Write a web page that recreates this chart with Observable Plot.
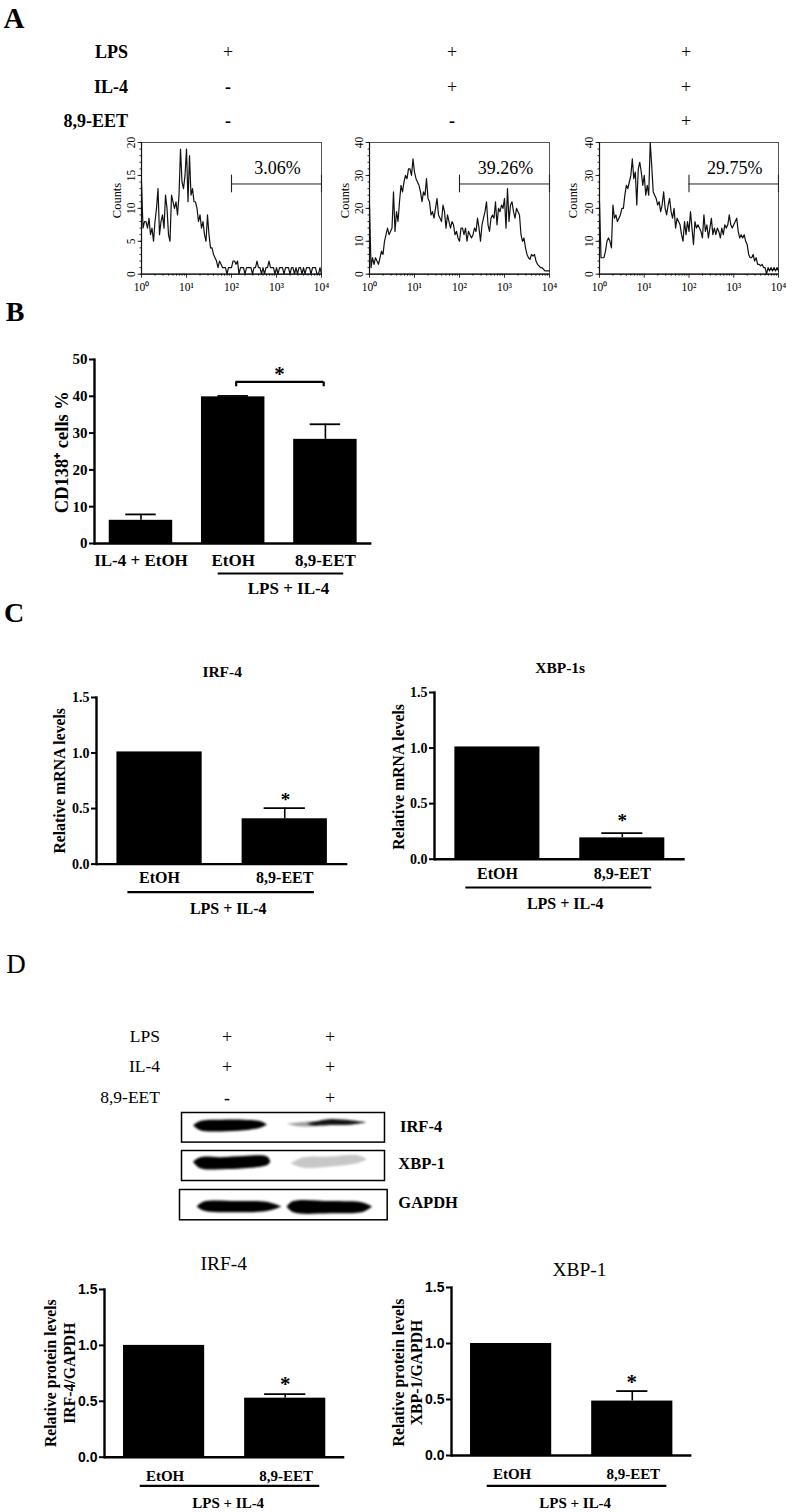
<!DOCTYPE html>
<html>
<head>
<meta charset="utf-8">
<script src="https://cdn.jsdelivr.net/npm/d3@7"></script>
<script src="https://cdn.jsdelivr.net/npm/@observablehq/plot@0.6"></script>
<style>
html,body{margin:0;padding:0;background:#fff;overflow:hidden}
#page{position:relative;width:792px;height:1512px;background:#fff;overflow:hidden}
#page svg{position:absolute;overflow:visible;background:transparent}
.lab{position:absolute;line-height:1;white-space:nowrap;color:#000;font-family:"Liberation Serif",serif}
</style>
</head>
<body>
<div id="page"></div>
<script>
// ---- data ----
const flowLps = [14,7,8,8,7,8.5,6,7,5,8,10,13,6,8,9,7,12,10,6,5,12,11,10,11,9,12,19,14,13,15,19,11,18,12,13,11,11,10,8,9,7,8,6,5,9,6,4,4,3,2.5,2,1,2,1.5,1,1,1,0,1,1,1,2,2,1.5,2,
  0,1,1,1,0,1,1,1,1,0,1,1,2,1,1,0,1,0,1,1,2,1,1,1,0,1,0,1,1,1,0,1,1,1,0,1,1,0,1,0,1,1,0,1,0,1,1,1,0,1,1,1,0,0,1,0];
const flowLpsIl4 = [21,2,5,3,5,4,3,5,7,6,10,12,14,12,13,14,25,13,19,16,22,27,25,28,30,29,32,32,30,35,31,29,28,27,25,22,25,24,29,23,22,18,19,17,20,23,18,17,16,21,19,14,18,16,14,16,15,12,13,11,10,14,14,12,14,10,13,12,11,12,14,13,17,14,10,15,17,19,22,15,13,17,18,17,22,15,20,19,21,20,23,14,26,16,21,22,19,17,20,19,18,12,10,11,8,6,5,4.5,6,5.5,6,4,3,2.5,2,2,1.5,1,1,1,1];
const flowLpsIl4Eet = [22,5,5,5,7,10,11,10,8,21,17,18,16,17,18,20,20,24,27,26,28,30,35,29,31,21,32,34,31,27,30,24,27,24,40,33,25,24,23,21,22,19,21,25,20,18,21,23,19,17,20,14,17,16,15,12,10,16,12,16,13,19,14,9,16,14,15,14,13,11,18,13,15,11,14,17,12,14,12,14,13,11,14,12,15,14,15,18,15,14,15,16,17,13,11,12,11,12,10,9,6,5,5,6,4,5,3,3,2.5,3,2,2,0,2,1,2,1,2,1,2,1];
const gatePercents = ["3.06%","39.26%","29.75%"];
const gateLevels = [13.7,27.4,27.4];
const flowMaxima = [20,40,40];
const conditionRows = ["LPS","IL-4","8,9-EET"];
const signsA = [["+","+","+"],["-","+","+"],["-","-","+"]];
const signsD = [["+","+"],["+","+"],["-","+"]];

const cd138Groups = ["IL-4 + EtOH","EtOH","8,9-EET"];
const cd138Values = [6.3,39.85,28.3];
const cd138Tops = [7.9,40.1,32.4];

const pairGroups = ["EtOH","8,9-EET"];
const irf4MrnaValues = [1.01,0.408];
const irf4MrnaTops = [null,0.504];
const xbpMrnaValues = [1.01,0.192];
const xbpMrnaTops = [null,0.234];
const irf4ProteinValues = [1.0,0.528];
const irf4ProteinTops = [null,0.564];
const xbpProteinValues = [1.0,0.486];
const xbpProteinTops = [null,0.575];

// western blot band outlines, in percent of each membrane box: [x, upper edge, lower edge]
const blotNames = ["IRF-4","XBP-1","GAPDH"];
const blotBands = [
  [
    {o:1, pts:[[5.9,45,45],[9.5,30,62],[19.4,26,66],[30.9,26,62],[39,31,53],[42.4,42,42]]},
    {o:.38, pts:[[52,39,39],[57,36,47],[66,33,47],[68,38,38]]},
    {o:.92, pts:[[62,40,40],[66,33,46],[73.6,24,44],[83.4,28,43],[91.6,35,35]]}
  ],
  [
    {o:1, pts:[[5.9,39,39],[9.5,24,61],[19.4,24,64],[30.9,20,61],[42.4,22,50],[44,39,39]]},
    {o:.22, pts:[[53.9,44,44],[60.4,24,59],[73.6,22,55],[86.7,17,44],[91.6,31,31]]}
  ],
  [
    {o:1, pts:[[8.5,58,58],[11.7,42,71],[27.8,40,77],[42.2,42,73],[49.4,58,58]]},
    {o:1, pts:[[51.8,58,58],[55,40,77],[72.8,40,80],[88.8,45,75],[93,58,58]]}
  ]
];

// ---- helpers ----
const page = document.getElementById("page");
const SERIF = '"Liberation Serif", serif';
const SANS = '"Liberation Sans", sans-serif';

function place(rect, m, options) {
  const svg = Plot.plot({
    width: rect.right - rect.left + m.left + m.right,
    height: rect.bottom - rect.top + m.top + m.bottom,
    marginLeft: m.left, marginRight: m.right, marginTop: m.top, marginBottom: m.bottom,
    style: {background: "transparent", overflow: "visible", fontFamily: SERIF, color: "#000"},
    ...options
  });
  svg.style.left = (rect.left - m.left) + "px";
  svg.style.top = (rect.top - m.top) + "px";
  page.appendChild(svg);
}
function label(text, x, y, o = {}) {
  const d = document.createElement("div");
  d.className = "lab";
  d.textContent = text;
  d.style.left = x + "px";
  d.style.top = y + "px";
  d.style.fontSize = (o.size || 16) + "px";
  d.style.fontWeight = o.weight || "normal";
  const tx = o.anchor === "end" ? "-100%" : o.anchor === "start" ? "0" : "-50%";
  d.style.transform = `translate(${tx},-50%)`;
  page.appendChild(d);
}
// text placed relative to the top-left of a chart's frame
function note(text, rect, x, y, o = {}) {
  return Plot.text([text], {
    frameAnchor: "top-left", dx: x - rect.left, dy: y - rect.top,
    text: d => d, textAnchor: "middle", lineAnchor: "middle",
    fontFamily: o.font || SERIF, fontSize: o.size || 15.5, fontWeight: o.weight || "bold",
    rotate: o.rotate || 0, fill: "#000"
  });
}

// ---- panel A ----
function flow(values, index, rect, yLabelX, ticksY, minorY) {
  const rows = values.map((v, i) => ({x: 10 ** (i / 30), y: v}));
  const max = flowMaxima[index];
  const gy = gateLevels[index];
  const cap = max * 0.067;
  const minorX = [0,1,2,3].flatMap(k => [2,3,4,5,6,7,8,9].map(m => m * 10 ** k));
  const sup = {1:"10⁰",10:"10¹",100:"10²",1000:"10³",10000:"10⁴"};
  place(rect, {left: 40, right: 12, top: 6, bottom: 24}, {
    x: {type: "log", domain: [1,10000], axis: null},
    y: {domain: [0,max], axis: null},
    marks: [
      Plot.frame({stroke: "#555", strokeWidth: 1}),
      Plot.axisX({ticks: minorX, tickSize: 2, tickFormat: () => "", label: null, strokeWidth: .8}),
      Plot.axisX({ticks: [1,10,100,1000,10000], tickSize: 4, tickPadding: 5, tickFormat: d => sup[d], label: null, fontSize: 11.5, strokeWidth: .8}),
      Plot.axisY({ticks: minorY, tickSize: 1.5, tickFormat: () => "", label: null, strokeWidth: .8}),
      Plot.axisY({ticks: ticksY, tickSize: 3.5, tickPadding: 3, tickRotate: -90, label: null, fontSize: 11.5, strokeWidth: .8}),
      Plot.ruleX([1], {stroke: "#111", strokeWidth: 1.2}),
      Plot.ruleY([0], {stroke: "#111", strokeWidth: 1.2}),
      Plot.line(rows, {x: "x", y: "y", curve: "linear", stroke: "#111", strokeWidth: 1.2}),
      Plot.ruleY([gy], {x1: 100, x2: 10000, stroke: "#222", strokeWidth: 1}),
      Plot.ruleX([100,10000], {y1: gy - cap, y2: gy + cap, stroke: "#222", strokeWidth: 1.1}),
      note("Counts", rect, yLabelX, 200, {weight: "normal", size: 12.5, rotate: -90}),
      note(gatePercents[index], rect, rect.left + (rect.right-rect.left)*0.755, 168, {weight: "normal", size: 18})
    ]
  });
}
const every = (n, step) => d3.range(0, n + step, step);
flow(flowLps, 0, {left:140.7,right:320.7,top:142,bottom:273.7}, 115.7, every(20,5), every(20,1));
flow(flowLpsIl4, 1, {left:369.3,right:549.3,top:142,bottom:273.7}, 344.3, every(40,10), every(40,2));
flow(flowLpsIl4Eet, 2, {left:598.7,right:777.7,top:142,bottom:273.7}, 572.3, every(40,10), every(40,2));

label("A", 14, 18, {size: 29, weight: "bold"});
const signColsA = [228, 452, 686], signRowsA = [52, 87, 121];
conditionRows.forEach((r, i) => {
  label(r, 128, signRowsA[i], {anchor: "end", weight: "bold", size: 18});
  signsA[i].forEach((s, j) => label(s, signColsA[j], signRowsA[i], {size: 18, weight: s === "-" ? "bold" : "normal"}));
});

// ---- bar panels ----
function bars(cfg) {
  const r = cfg.rect;
  const rows = cfg.groups.map((g, i) => ({g, v: cfg.values[i], top: cfg.tops[i]}));
  const err = rows.filter(d => d.top != null);
  const tickFont = cfg.tickFont || SERIF;
  const lo = cfg.groups[cfg.groups.length - 2], hi = cfg.groups[cfg.groups.length - 1];
  const marks = [
    Plot.barY(rows, {x: "g", y: "v", fill: "#000"}),
    Plot.ruleX(err, {x: "g", y1: "v", y2: "top", stroke: "#000", strokeWidth: 1.6}),
    Plot.tickY(err, {x: "g", y: "top", stroke: "#000", strokeWidth: 1.8, insetLeft: cfg.capInset, insetRight: cfg.capInset}),
    Plot.ruleY([0], {stroke: "#000", strokeWidth: 2.4}),
    Plot.frame({anchor: "left", stroke: "#000", strokeWidth: 2.4}),
    Plot.axisY({ticks: cfg.ticks, tickSize: 5, tickPadding: 2, label: null, strokeWidth: 2,
      tickFormat: cfg.tickFormat, fontSize: cfg.tickSize, fontWeight: "bold", fontFamily: tickFont}),
    Plot.axisX({tickSize: 0, tickPadding: cfg.catPad, dx: cfg.catDx || 0, label: null, fontSize: cfg.catSize, fontWeight: "bold", fontFamily: SERIF}),
    Plot.ruleY([cfg.underlineY], {x1: () => lo, x2: () => hi, insetLeft: cfg.underInsetL, insetRight: cfg.underInsetR, stroke: "#000", strokeWidth: 2.2}),
    note("LPS + IL-4", r, cfg.groupLabel[0], cfg.groupLabel[1], {size: cfg.catSize}),
    ...cfg.yTitles.map(t => note(t[0], r, t[1], t[2], {size: t[3], rotate: -90}))
  ];
  if (cfg.title) marks.push(note(cfg.title[0], r, cfg.title[1], cfg.title[2], {size: cfg.title[3], weight: cfg.title[4]}));
  marks.push(...cfg.extra(r));
  place(r, {left: 60, right: 6, top: 28, bottom: 52}, {
    x: {type: "band", domain: cfg.groups, paddingInner: cfg.padInner, paddingOuter: cfg.padOuter, round: false, axis: null},
    y: {domain: cfg.yDomain, axis: null},
    marks
  });
}
const pixel = (r, dom, py) => dom[1] * (r.bottom - py) / (r.bottom - r.top); // data value at a page height

label("B", 15, 312, {size: 28, weight: "bold"});
const rB = {left:94.3,right:371.7,top:359.3,bottom:543.3};
bars({
  rect: rB, groups: cd138Groups, values: cd138Values, tops: cd138Tops, yDomain: [0,50], ticks: [0,10,20,30,40,50],
  tickSize: 15, catSize: 17, catPad: 10, capInset: 16.5, padInner: .312, padOuter: .16,
  underlineY: pixel(rB,[0,50],573.3), underInsetL: 16.7, underInsetR: 13.4, groupLabel: [288.3,588],
  yTitles: [["CD138⁺ cells %",62,452,18.5]],
  extra: r => [
    Plot.ruleY([43.9], {x1: () => "EtOH", x2: () => "8,9-EET", insetLeft: 34.7, insetRight: 33.4, stroke:"#000", strokeWidth:2.2}),
    Plot.ruleX(["EtOH"], {x: d => d, y1: 42.6, y2: 43.9, dx: 3, stroke:"#000", strokeWidth:2.2}),
    Plot.ruleX(["8,9-EET"], {x: d => d, y1: 42.6, y2: 43.9, dx: -1.7, stroke:"#000", strokeWidth:2.2}),
    note("*", r, 279.3, 374, {size: 21})
  ]
});

label("C", 14, 613, {size: 28, weight: "bold"});
const rC1 = {left:96,right:347.3,top:696.7,bottom:863.3};
bars({
  rect: rC1, groups: pairGroups, values: irf4MrnaValues, tops: irf4MrnaTops, yDomain: [0,1.5], ticks: [0,.5,1,1.5],
  tickFormat: d3.format(".1f"), tickSize: 14, catSize: 16, catPad: 8, capInset: 22, padInner: .319, padOuter: .163,
  underlineY: pixel(rC1,[0,1.5],891.3), underInsetL: 11, underInsetR: 13, groupLabel: [227.7,907.7],
  yTitles: [["Relative mRNA levels",59.3,780,15.7]], title: ["IRF-4",221.7,671.7,15.5,"bold"],
  extra: r => [note("*", r, 285, 799, {size: 19})]
});
const rC2 = {left:434.3,right:685,top:692.3,bottom:859};
bars({
  rect: rC2, groups: pairGroups, values: xbpMrnaValues, tops: xbpMrnaTops, yDomain: [0,1.5], ticks: [0,.5,1,1.5],
  tickFormat: d3.format(".1f"), tickSize: 14, catSize: 16, catPad: 8, capInset: 22, padInner: .319, padOuter: .163,
  underlineY: pixel(rC2,[0,1.5],887.3), underInsetL: 11, underInsetR: 13, groupLabel: [565,904],
  yTitles: [["Relative mRNA levels",398.3,776.7,15.7]], title: ["XBP-1s",560,668.3,15.5,"bold"],
  extra: r => [note("*", r, 622, 821, {size: 19})]
});

// ---- panel D ----
label("D", 16, 964, {size: 27});
const signColsD = [227, 330], signRowsD = [1037, 1067, 1098];
conditionRows.forEach((r, i) => {
  label(r, 160, signRowsD[i], {anchor: "end", size: 17.5});
  signsD[i].forEach((s, j) => label(s, signColsD[j], signRowsD[i], {size: 18}));
});

const blotRects = [
  {left:180.7,right:383.7,top:1111.7,bottom:1141.3},
  {left:180.7,right:383.7,top:1150,bottom:1180},
  {left:179,right:386.7,top:1189,bottom:1219.3}
];
const blotLabelPos = [[400,1126.7],[398.3,1164.3],[398.3,1203.3]];
blotRects.forEach((rect, i) => {
  place(rect, {left: 2, right: 2, top: 2, bottom: 2}, {
    x: {domain: [0,100], axis: null},
    y: {domain: [100,0], axis: null},
    marks: [
      ...blotBands[i].map(b => Plot.areaY(b.pts, {x: d => d[0], y1: d => d[1], y2: d => d[2], curve: "catmull-rom",
        fill: "#000", fillOpacity: b.o, imageFilter: "blur(0.9px)"})),
      Plot.frame({stroke:"#000", strokeWidth:1.5})
    ]
  });
  label(blotNames[i], blotLabelPos[i][0], blotLabelPos[i][1], {anchor:"start", size:16.5, weight:"bold"});
});

const rD1 = {left:104,right:344.3,top:1289.3,bottom:1457};
bars({
  rect: rD1, groups: pairGroups, values: irf4ProteinValues, tops: irf4ProteinTops, yDomain: [0,1.5], ticks: [0,.5,1,1.5],
  tickFormat: d3.format(".1f"), tickSize: 14, tickFont: SANS, catSize: 15, catPad: 13, catDx: 1, capInset: 20, padInner: .33, padOuter: .157,
  underlineY: pixel(rD1,[0,1.5],1485.7), underInsetL: 16.7, underInsetR: 6, groupLabel: [227.7,1503.3],
  yTitles: [["Relative protein levels",50,1373,15.7],["IRF-4/GAPDH",69,1373,15.7]], title: ["IRF-4",223.3,1264,19.5,"normal"],
  extra: r => [note("*", r, 284.7, 1384, {size: 21})]
});
const rD2 = {left:451.3,right:691.7,top:1286.7,bottom:1454.7};
bars({
  rect: rD2, groups: pairGroups, values: xbpProteinValues, tops: xbpProteinTops, yDomain: [0,1.5], ticks: [0,.5,1,1.5],
  tickFormat: d3.format(".1f"), tickSize: 14, tickFont: SANS, catSize: 15, catPad: 13, catDx: 1, capInset: 25, padInner: .33, padOuter: .157,
  underlineY: pixel(rD2,[0,1.5],1485), underInsetL: 16.7, underInsetR: 6, groupLabel: [575,1502.3],
  yTitles: [["Relative protein levels",398.3,1371.7,15.7],["XBP-1/GAPDH",416.7,1371.7,15.7]], title: ["XBP-1",579.3,1269.3,19.5,"normal"],
  extra: r => [note("*", r, 631.5, 1381, {size: 21})]
});
</script>
</body>
</html>
